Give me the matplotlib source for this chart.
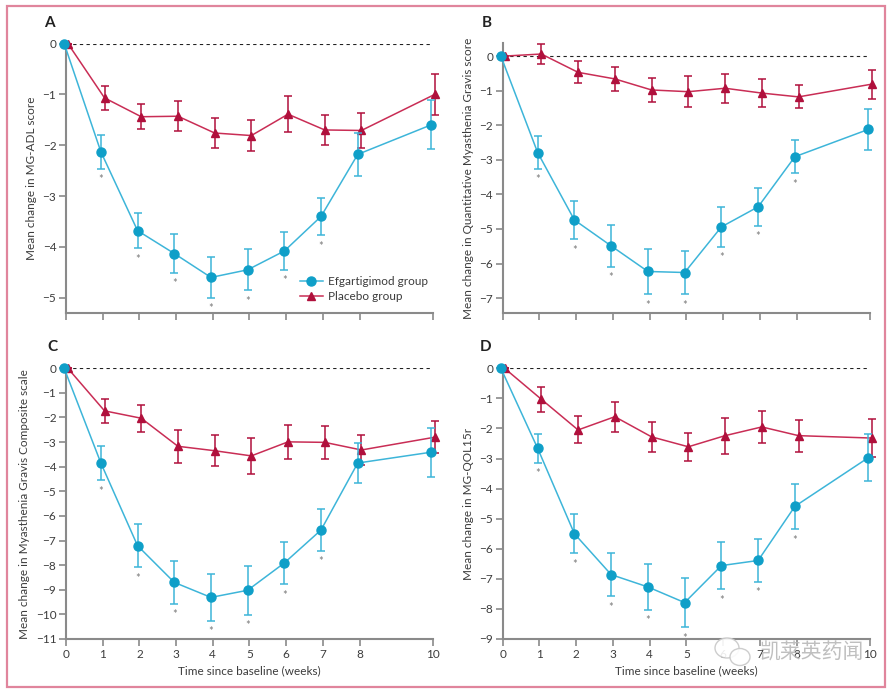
import numpy as np
import matplotlib
matplotlib.use("Agg")
import matplotlib.pyplot as plt
from matplotlib.patches import Rectangle, Ellipse
from matplotlib.lines import Line2D

plt.rcParams['font.family'] = ['Lato', 'DejaVu Sans']

weeks = [0, 1, 2, 3, 4, 5, 6, 7, 8, 10]

# Panel A: MG-ADL
a_efg = [0, -2.13, -3.68, -4.13, -4.60, -4.45, -4.08, -3.40, -2.18, -1.60]
a_efg_err = [0, 0.33, 0.35, 0.38, 0.40, 0.40, 0.37, 0.37, 0.42, 0.48]
a_pbo = [0, -1.07, -1.44, -1.43, -1.76, -1.81, -1.39, -1.70, -1.71, -1.00]
a_pbo_err = [0, 0.24, 0.25, 0.30, 0.30, 0.31, 0.36, 0.30, 0.34, 0.40]
a_star = [1, 2, 3, 4, 5, 6, 7]

# Panel B: QMG
b_efg = [0, -2.79, -4.74, -5.49, -6.23, -6.26, -4.94, -4.36, -2.91, -2.12]
b_efg_err = [0, 0.47, 0.55, 0.60, 0.65, 0.63, 0.57, 0.55, 0.47, 0.59]
b_pbo = [0, 0.06, -0.47, -0.66, -0.98, -1.03, -0.93, -1.07, -1.18, -0.81]
b_pbo_err = [0, 0.30, 0.32, 0.35, 0.36, 0.44, 0.42, 0.41, 0.33, 0.42]
b_star = [1, 2, 3, 4, 5, 6, 7, 8]

# Panel C: MGC
c_efg = [0, -3.85, -7.21, -8.70, -9.31, -9.02, -7.91, -6.57, -3.85, -3.41]
c_efg_err = [0, 0.70, 0.87, 0.86, 0.95, 1.00, 0.86, 0.85, 0.81, 1.00]
c_pbo = [0, -1.73, -2.03, -3.17, -3.35, -3.56, -2.99, -3.01, -3.32, -2.80]
c_pbo_err = [0, 0.50, 0.55, 0.67, 0.62, 0.73, 0.70, 0.66, 0.60, 0.64]
c_star = [1, 2, 3, 4, 5, 6, 7]

# Panel D: MG-QOL15r
d_efg = [0, -2.66, -5.50, -6.86, -7.27, -7.79, -6.56, -6.39, -4.59, -2.97]
d_efg_err = [0, 0.48, 0.65, 0.72, 0.75, 0.81, 0.78, 0.71, 0.75, 0.79]
d_pbo = [0, -1.03, -2.05, -1.61, -2.28, -2.61, -2.24, -1.95, -2.24, -2.32]
d_pbo_err = [0, 0.42, 0.45, 0.50, 0.50, 0.47, 0.60, 0.53, 0.53, 0.62]
d_star = [1, 2, 3, 4, 5, 6, 7, 8]

efg_col = '#0f9fc8'
efg_line = '#3db5d9'
pbo_col = '#b0103c'
pbo_line = '#c92d55'
txt_col = '#3c3c3c'
spine_col = '#8a8a8a'

fig = plt.figure(figsize=(8.92, 6.95), dpi=100)

# pink frame round the whole figure
fig.patches.append(Rectangle((7 / 892, 1 - 687 / 695), 878 / 892, 681 / 695,
                             transform=fig.transFigure, fill=False,
                             edgecolor='#e0859c', linewidth=1.6))

panels = [
    ('A', [0.074, 0.5496, 0.4114, 0.3878], a_efg, a_efg_err, a_pbo, a_pbo_err, a_star,
     (-5.3, 0), range(-5, 1), 'Mean change in MG-ADL score', False, (49, 23)),
    ('B', [0.5636, 0.5492, 0.4120, 0.3885], b_efg, b_efg_err, b_pbo, b_pbo_err, b_star,
     (-7.44, 0.37), range(-7, 1), 'Mean change in Quantitative Myasthenia Gravis score', False, (487, 23)),
    ('C', [0.074, 0.0806, 0.4114, 0.3895], c_efg, c_efg_err, c_pbo, c_pbo_err, c_star,
     (-11, 0), range(-11, 1), 'Mean change in Myasthenia Gravis Composite scale', True, (52, 347)),
    ('D', [0.5636, 0.0806, 0.4120, 0.3895], d_efg, d_efg_err, d_pbo, d_pbo_err, d_star,
     (-9, 0), range(-9, 1), 'Mean change in MG-QOL15r', True, (486, 347)),
]

x = np.array(weeks, dtype=float)

for letter, pos, efg, efg_err, pbo, pbo_err, stars, ylim, yticks, ylabel, show_x, lpos in panels:
    ax = fig.add_axes(pos)
    ax.axhline(0, color='#222222', linestyle=(0, (3, 3)), linewidth=0.8, zorder=1)

    ax.errorbar(x + 0.05, pbo, yerr=pbo_err, color=pbo_line, ecolor=pbo_col,
                elinewidth=1.1, capsize=3.2, capthick=1.1, linewidth=1.1,
                marker='^', markersize=6, markerfacecolor=pbo_col,
                markeredgecolor=pbo_col, clip_on=False, zorder=3)
    ax.errorbar(x - 0.05, efg, yerr=efg_err, color=efg_line, ecolor=efg_line,
                elinewidth=1.1, capsize=3.2, capthick=1.1, linewidth=1.1,
                marker='o', markersize=6.5, markerfacecolor=efg_col,
                markeredgecolor=efg_col, clip_on=False, zorder=4)

    for w in stars:
        i = weeks.index(w)
        ax.annotate('*', (w - 0.05, efg[i] - efg_err[i]), xytext=(0, -8),
                    textcoords='offset points', ha='center', va='center',
                    fontsize=8, color='#7a7a7a')

    ax.set_xlim(0, 10)
    ax.set_ylim(*ylim)
    ax.set_xticks(weeks)
    ax.set_yticks(list(yticks))
    for s in ['top', 'right']:
        ax.spines[s].set_visible(False)
    for s in ['left', 'bottom']:
        ax.spines[s].set_color(spine_col)
        ax.spines[s].set_linewidth(1.5)
    ax.spines['left'].set_bounds(ylim[0], max(ylim[1], 0))
    ax.tick_params(direction='out', length=5, width=1.2, color=spine_col,
                   labelsize=8.5, labelcolor=txt_col, pad=2)
    if show_x:
        ax.set_xlabel('Time since baseline (weeks)', fontsize=8.5, color=txt_col, labelpad=4)
    else:
        ax.set_xticklabels([])
    ax.set_ylabel(ylabel, fontsize=8.5, color=txt_col, labelpad=4)

    fig.text(lpos[0] / 892, 1 - lpos[1] / 695, letter, fontsize=11, fontweight='bold',
             color='#222222', ha='center', va='center')

    if letter == 'A':
        handles = [Line2D([], [], color=efg_line, lw=1.1, marker='o', markersize=6.5,
                          markerfacecolor=efg_col, markeredgecolor=efg_col),
                   Line2D([], [], color=pbo_line, lw=1.1, marker='^', markersize=6,
                          markerfacecolor=pbo_col, markeredgecolor=pbo_col)]
        leg = ax.legend(handles, ['Efgartigimod group', 'Placebo group'],
                        loc='lower right', bbox_to_anchor=(1.015, 0.0),
                        frameon=False, fontsize=8.5, handlelength=2.0,
                        handletextpad=0.4, labelspacing=0.35)
        for t in leg.get_texts():
            t.set_color(txt_col)

# watermark (WeChat-style bubbles and account name)
fig.patches.append(Ellipse((727 / 892, 1 - 648 / 695), 24 / 892, 20 / 695,
                           transform=fig.transFigure, facecolor='white',
                           edgecolor='#c8c8c8', linewidth=1.0, alpha=0.9))
fig.patches.append(Ellipse((740 / 892, 1 - 657 / 695), 20 / 892, 17 / 695,
                           transform=fig.transFigure, facecolor='white',
                           edgecolor='#c8c8c8', linewidth=1.0, alpha=0.9))
fig.text(812 / 892, 1 - 653 / 695, '凯莱英药闻', fontsize=15, color='#b8b8b8',
         family=['Noto Sans CJK SC', 'DejaVu Sans'], ha='center', va='center', alpha=0.9)

fig.savefig('out.png', dpi=100)
